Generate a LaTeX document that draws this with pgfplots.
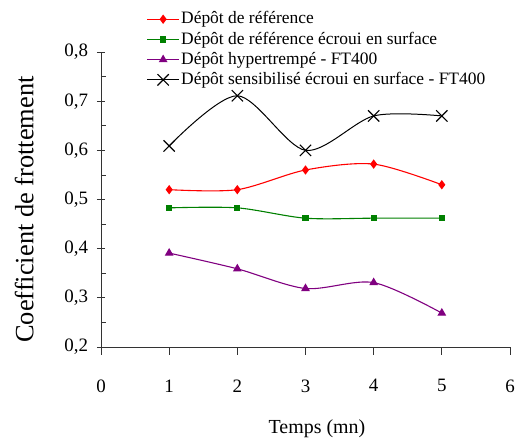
\documentclass[border=0pt]{standalone}
\usepackage{fontspec}
\setmainfont{Liberation Serif}
\usepackage{pgfplots}
\pgfplotsset{compat=1.18}
\definecolor{serieA}{RGB}{255,0,0}
\definecolor{serieB}{RGB}{0,128,0}
\definecolor{serieC}{RGB}{128,0,128}
\begin{document}
\begin{tikzpicture}
\useasboundingbox (0,0) rectangle (520bp,438bp);
\begin{axis}[
  at={(101bp,91bp)}, anchor=south west,
  scale only axis, width=409bp, height=295bp,
  xmin=0, xmax=6, ymin=0.2, ymax=0.8,
  axis x line*=bottom, axis y line*=left,
  axis line style={-, line width=0.8pt, black!80},
  xtick={0,1,2,3,4,5,6},
  xticklabels={0,1,2,3,4,5,6},
  ytick={0.2,0.3,0.4,0.5,0.6,0.7,0.8},
  yticklabels={{0,2},{0,3},{0,4},{0,5},{0,6},{0,7},{0,8}},
  minor y tick num=1,
  tick align=outside,
  major tick length=8bp, minor tick length=5bp,
  every tick/.style={black!80, line width=0.8pt},
  major y tick style={xshift=4bp},
  minor y tick style={xshift=5bp},
  tick label style={font=\rmfamily\fontsize{19}{21}\selectfont},
  xticklabel style={yshift=-21bp},
  yticklabel style={xshift=-1.5bp},
  xlabel={Temps (mn)},
  xlabel style={at={(axis description cs:0.528,-0.278)}, anchor=center, font=\rmfamily\fontsize{20}{22}\selectfont},
  ylabel={Coefficient de frottement},
  ylabel style={at={(axis description cs:-0.188,0.466)}, anchor=center, font=\rmfamily\fontsize{26.5}{28}\selectfont},
  legend cell align=left,
  legend image code/.code={\draw[mark repeat=2, mark phase=2, #1] plot coordinates {(0bp,0bp) (16bp,0bp) (32bp,0bp)};},
  legend style={at={(axis description cs:0.111,1.146)}, anchor=north west, draw=none, fill=none,
    inner sep=0pt, font=\rmfamily\fontsize{17.5}{19}\selectfont, row sep=0pt,
    nodes={inner sep=1.5bp, text height=13.2bp, text depth=4bp}},
  every axis plot/.append style={line width=1.1pt, smooth},
  clip=false,
]
% Dépôt de référence
\addplot[serieA, mark=diamond*, mark size=3.8bp] coordinates {
  (1,0.52) (2,0.52) (3,0.56) (4,0.572) (5,0.53)};
\addlegendentry{Dépôt de référence}
% Dépôt de référence écroui en surface
\addplot[serieB, mark=square*, mark size=2.6bp] coordinates {
  (1,0.483) (2,0.483) (3,0.462) (4,0.462) (5,0.462)};
\addlegendentry{Dépôt de référence écroui en surface}
% Dépôt hypertrempé - FT400
\addplot[serieC, mark=triangle*, mark size=4bp] coordinates {
  (1,0.391) (2,0.359) (3,0.319) (4,0.331) (5,0.269)};
\addlegendentry{Dépôt hypertrempé - FT400}
% Dépôt sensibilisé écroui en surface - FT400
\addplot[black, line width=1pt, mark=x, mark size=8bp, mark options={line width=1.1pt}] coordinates {
  (1,0.609) (2,0.711) (3,0.60) (4,0.67) (5,0.67)};
\addlegendentry{Dépôt sensibilisé écroui en surface - FT400}
\end{axis}
\end{tikzpicture}
\end{document}
